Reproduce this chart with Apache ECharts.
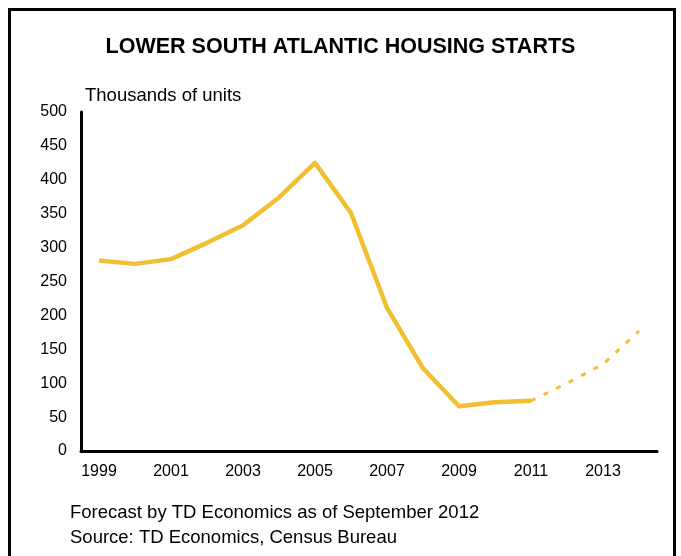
<!DOCTYPE html>
<html>
<head>
<meta charset="utf-8">
<script src="https://cdn.jsdelivr.net/npm/echarts@6/dist/echarts.min.js"></script>
<style>
  html, body { margin: 0; padding: 0; background: #fff; }
  #chart { width: 681px; height: 556px; }
</style>
</head>
<body>
<div id="chart"></div>
<script>
// Housing starts, thousands of units
const years = ['1999','2000','2001','2002','2003','2004','2005','2006','2007','2008','2009','2010','2011','2012','2013','2014'];
const actual = [281, 276, 283, 307, 333, 374, 425, 351, 211, 122, 66, 72, 74, null, null, null];
const forecast = [null, null, null, null, null, null, null, null, null, null, null, null, 74, 100, 128, 177];
const yTicks = { min: 0, max: 500, step: 50 };

const FONT = '"Liberation Sans", Arial, sans-serif';
const LINE_COLOR = '#F2BF32';

const chart = echarts.init(document.getElementById('chart'), null, { renderer: 'canvas' });

chart.setOption({
  animation: false,
  backgroundColor: '#fff',
  textStyle: { fontFamily: FONT },
  title: {
    text: 'LOWER SOUTH ATLANTIC HOUSING STARTS',
    left: 'center',
    top: 31,
    textStyle: { fontFamily: FONT, fontSize: 21.5, fontWeight: 'bold', color: '#000' }
  },
  grid: { left: 81, right: 24, top: 112, bottom: 105, containLabel: false },
  xAxis: {
    type: 'category',
    data: years,
    boundaryGap: true,
    axisLine: { lineStyle: { color: '#000', width: 3 } },
    axisTick: { show: false },
    axisLabel: { interval: 1, color: '#000', fontSize: 16, margin: 13, fontFamily: FONT }
  },
  yAxis: {
    type: 'value',
    min: yTicks.min,
    max: yTicks.max,
    interval: yTicks.step,
    name: 'Thousands of units',
    nameLocation: 'end',
    nameGap: 7,
    nameTextStyle: { align: 'left', color: '#000', fontSize: 18.5, fontFamily: FONT, padding: [0, 0, 0, 4] },
    axisLine: { show: true, lineStyle: { color: '#000', width: 3 } },
    axisTick: { show: false },
    splitLine: { show: false },
    axisLabel: { color: '#000', fontSize: 16, margin: 14, fontFamily: FONT }
  },
  series: [
    {
      name: 'Actual',
      type: 'line',
      data: actual,
      symbol: 'none',
      lineStyle: { color: LINE_COLOR, width: 4.5, join: 'round' },
      z: 3
    },
    {
      name: 'Forecast',
      type: 'line',
      data: forecast,
      symbol: 'none',
      lineStyle: { color: LINE_COLOR, width: 3, type: [5, 9] },
      z: 2
    }
  ],
  graphic: [
    {
      type: 'rect',
      shape: { x: 9.5, y: 9.5, width: 665, height: 600 },
      style: { fill: 'none', stroke: '#000', lineWidth: 3 },
      silent: true
    },
    {
      type: 'text',
      left: 70,
      top: 500,
      style: {
        text: 'Forecast by TD Economics as of September 2012\nSource: TD Economics, Census Bureau',
        font: '18.5px ' + FONT,
        fill: '#000',
        lineHeight: 25
      }
    }
  ]
});
</script>
</body>
</html>
